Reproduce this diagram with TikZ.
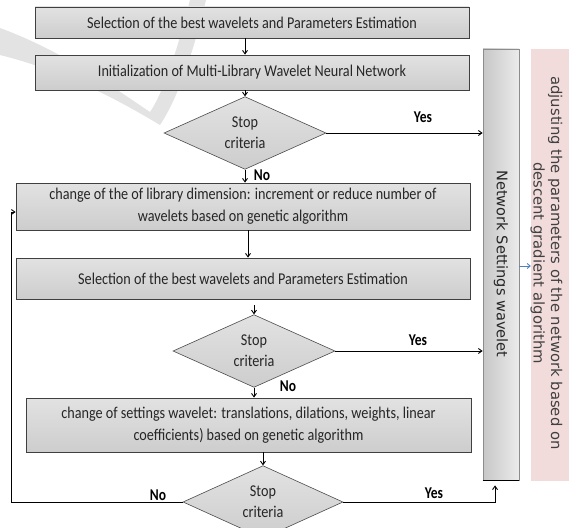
\documentclass[tikz,border=0pt]{standalone}
\usepackage{fontspec}
\setmainfont{Carlito}
\newfontfamily\condfont[FakeStretch=0.86]{Carlito}
\newfontfamily\labfont[FakeStretch=0.82]{Carlito}
\newfontfamily\dejavu{DejaVu Sans}
\usetikzlibrary{shapes.geometric,arrows.meta}
\definecolor{boxtop}{HTML}{E2E2E2}
\definecolor{boxbot}{HTML}{CDCDCD}
\definecolor{pinkfill}{HTML}{F2DCDB}
\definecolor{txt}{HTML}{262626}
\definecolor{bluearrow}{HTML}{4F81BD}
\tikzset{
  box/.style={draw=black!75, line width=0.8pt, top color=boxtop, bottom color=boxbot,
    inner sep=2pt, align=center, text=txt, font=\condfont\fontsize{16.5}{22}\selectfont},
  dec/.style={shape=diamond, draw=black!70, line width=0.6pt, top color=boxtop, bottom color=boxbot,
    inner sep=0pt, align=center, text=txt, font=\condfont\fontsize{16.5}{21}\selectfont},
  lab/.style={font=\labfont\bfseries\fontsize{16.5}{18}\selectfont, text=black},
  conn/.style={line width=0.9pt, -{Straight Barb[length=3.5pt,width=5pt]}},
}
\begin{document}
\begin{tikzpicture}[x=1pt,y=-1pt]
\useasboundingbox (0,0) rectangle (569,527);
% watermark
\fill[gray!22] (0,28) .. controls (60,50) and (110,85) .. (150,112)
  .. controls (165,90) and (180,40) .. (190,0) -- (206,0)
  .. controls (195,45) and (180,95) .. (160,125)
  .. controls (110,95) and (60,70) .. (0,55) -- cycle;
% boxes
\node[box, minimum width=434pt, minimum height=31pt] (b1) at (252,22.5) {Selection of the best wavelets and Parameters Estimation};
\node[box, minimum width=434pt, minimum height=35pt] (b2) at (252,72.5) {Initialization of Multi-Library Wavelet Neural Network};
\node[dec, minimum width=162pt, minimum height=55pt] (d1) at (245,133) {Stop\\criteria};
\node[box, minimum width=454pt, minimum height=47pt] (b3) at (243,206.5) {change of the of library dimension: increment or reduce number of\\wavelets based on genetic algorithm};
\node[box, minimum width=454pt, minimum height=41pt] (b4) at (243,278.5) {Selection of the best wavelets and Parameters Estimation};
\node[dec, minimum width=162pt, minimum height=45pt] (d2) at (254,351) {Stop\\criteria};
\node[box, minimum width=445pt, minimum height=54pt] (b5) at (248.5,425) {change of settings wavelet: translations, dilations, weights, linear\\coefficients) based on genetic algorithm};
\node[dec, minimum width=160pt, minimum height=58pt] (d3) at (263,502) {Stop\\criteria};
% side boxes
\node[draw=black!45, line width=0.8pt, left color=black!22, right color=black!8,
  minimum width=36pt, minimum height=431pt, inner sep=0pt] (ns) at (501,264.5) {};
\draw[line width=1pt] (ns.south west) -- (ns.south east);
\node[rotate=-90, font=\dejavu\fontsize{14.6}{16}\selectfont, text=txt] (nst) at (501,264) {Network Settings wavelet};
\node[fill=pinkfill, minimum width=40pt, minimum height=432pt, inner sep=0pt] (pk) at (551,265) {};
\node[rotate=-90, align=center, text=black!75, font=\dejavu\fontsize{14.8}{17.5}\selectfont] (pkt) at (546.5,263)
  {adjusting the parameters of the network based on\\descent gradient algorithm};
% connectors
\draw[conn] (b1.south -| d1) -- (b2.north -| d1);
\draw[conn] (b2.south -| d1) -- (d1.north);
\draw[conn] (d1.south) -- (b3.north -| d1);
\draw[conn] (d1.east) -- (d1.east -| ns.west);
\draw[conn] ([xshift=5pt]b3.south) -- ([xshift=5pt]b4.north);
\draw[conn] ([yshift=-6pt]b4.south -| d2) -- (d2.north);
\draw[conn] (d2.east) -- (d2.east -| ns.west);
\draw[conn] (d2.south) -- (b5.north -| d2);
\draw[conn] (b5.south -| d3) -- (d3.north);
\draw[conn] (d3.west) -- ++(-171,0) |- ([yshift=-5.5pt]b3.west);
\coordinate (nsin) at ([xshift=-6pt,yshift=-5pt]ns.south);
\draw[conn] (d3.east) -| (nsin);
\draw[line width=0.9pt, draw=bluearrow, -{Straight Barb[length=3pt,width=5pt]}] ([yshift=-1.5pt]ns.east) -- ([yshift=-1.5pt]ns.east -| pk.west);
% labels
\node[lab] (y1) at (423,117) {Yes};
\node[lab] (n1) at (262,175) {No};
\node[lab] (y2) at (418,340) {Yes};
\node[lab] (n2) at (288,386) {No};
\node[lab] (n3) at (158,495) {No};
\node[lab] (y3) at (434,493) {Yes};
\end{tikzpicture}
\end{document}
